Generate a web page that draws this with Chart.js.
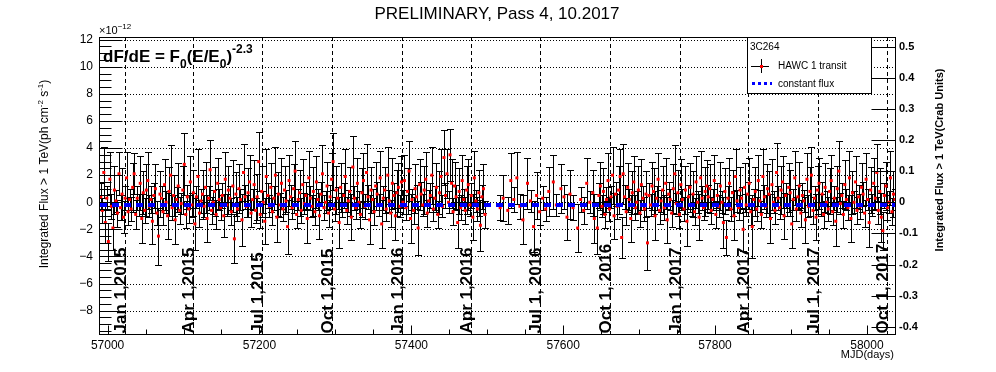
<!DOCTYPE html>
<html>
<head>
<meta charset="utf-8">
<title>3C264 - HAWC light curve</title>
<script src="https://cdn.jsdelivr.net/npm/chart.js@4.4.0/dist/chart.umd.min.js"></script>
<style>
  html, body { margin: 0; padding: 0; background: #fff; }
  #lc { display: block; }
</style>
</head>
<body>
<canvas id="lc" width="996" height="372"></canvas>
<script>
// HAWC transits of 3C264, integrated flux > 1 TeV in units of 1e-12 ph cm^-2 s^-1
// one entry every second day starting at firstMJD, null where no transit is plotted
const firstMJD = 56991;
const stepDays = 2;

const flux = [
  0.4, -0.6, 2.2, -1.5, 0.3, -2.9, 1.7, -0.3, -1.9, 0.9, 0.1, -0.8, 2.1, -0.4, 0.6, -1.1, 0.3, 1.8, -0.7, 0.2,
  -0.5, 1.1, 2.1, -0.9, 0.3, -0.2, 1.4, -1.2, 0.7, -0.6, 0.9, 1.6, -0.3, 0.2, -1.4, 0.5, 1.0, -0.8, -2.5, 0.6,
  0.3, -0.7, 1.3, 0.0, -1.0, 0.8, 2.0, -0.4, 0.5, -1.3, 0.2, 1.2, -0.6, -0.1, 0.9, 2.8, -0.9, 0.4, -0.5, 1.5,
  -0.2, 0.7, -1.6, 0.4, 1.9, -0.8, 0.1, 0.6, -0.3, 1.1, -1.2, 0.3, 2.4, -0.6, 0.0, 0.8, -0.9, 1.4, 0.2, -0.4,
  0.5, -1.0, 1.7, -0.2, 0.9, 0.3, -0.7, 1.2, -2.7, 0.6, -0.5, 1.0, 0.2, -1.3, 2.2, 0.4, -0.3, 0.7, 1.5, -0.8,
  0.2, 1.3, -0.6, 0.4, 3.0, -0.9, 0.8, 0.0, -1.4, 1.9, 0.5, -0.3, 1.1, -0.7, 0.3, 2.0, -1.1, 0.6, -0.2, 1.4,
  -0.5, 0.9, 0.1, -1.8, 1.6, 0.4, -0.4, 1.0, 2.3, -0.9, 0.2, 0.7, -0.6, 1.3, -0.1, 0.5, -1.2, 1.8, 0.3, -0.3,
  0.8, -0.7, 1.5, 0.2, -1.0, 0.6, 2.1, -0.4, 0.0, 1.2, -0.8, 0.4, 1.7, 3.0, -0.5, 0.9, 0.3, -1.5, 1.1, -0.2,
  0.5, 1.9, -0.6, 0.1, 0.8, -1.1, 2.6, 0.3, -0.4, 1.4, 0.0, -0.9, 0.7, 1.6, -0.3, 2.2, 0.4, -1.3, 0.9, 0.2,
  -0.7, 1.2, 0.6, -0.2, 1.8, -1.6, 0.3, 0.9, -0.5, 2.0, 0.1, -0.8, 1.4, 0.5, -1.0, 0.7, 1.1, -0.3, 1.5, 0.0,
  1.6, -0.4, 0.8, 2.3, -1.2, 0.2, -0.6, 1.0, 0.4, -1.9, 1.3, 0.6, -0.2, 0.9, 1.7, -0.8, 0.1, 0.5, 2.0, -0.5,
  0.3, 1.1, -0.9, 0.7, 1.9, -0.3, 3.3, 0.5, 2.1, 0.0, 3.5, 1.4, -0.7, 1.2, 0.4, -1.5, 0.8, -0.4, 1.6, 0.2,
  -0.6, 0.9, 1.3, -0.2, 0.5, -1.1, 1.8, 0.1, -0.5, 0.7, -1.7, 0.4, 1.0, -0.9, null, null, null, null, null, null,
  null, null, null, -0.4, null, 0.3, null, null, -0.6, null, 1.6, null, 0.2, null, 1.8, null, -0.3, null, -1.3, null,
  null, 1.4, null, 0.1, null, -1.8, null, 0.5, null, -0.7, null, 0.3, null, -0.5, null, 0.8, null, null, 1.5, null,
  -0.2, null, null, 1.0, null, 0.4, null, -1.1, null, 0.6, null, -0.4, null, null, -1.9, null, 0.2, null, -0.6, null,
  1.4, null, 0.0, null, 0.7, -1.2, null, -1.9, 0.5, 1.2, -0.3, 0.8, -0.9, 0.2, 1.6, -0.5, 0.4, 2.0, -1.0, 0.6,
  -0.3, 0.9, 1.9, -2.6, 2.1, 0.4, -0.7, 1.1, 0.2, -1.2, 0.7, 1.5, -0.4, 0.0, 0.9, -0.8, 1.3, 0.3, -0.5, 0.6,
  -3.0, 0.5, -0.2, 1.2, 0.8, -1.0, 0.3, 1.7, -0.6, 0.1, 0.9, -0.4, 1.4, -1.3, 0.6, 0.2, -0.8, 1.0, 2.1, -0.1,
  0.7, -0.9, 1.3, 0.2, -0.5, 0.9, -1.4, 0.4, 1.1, -0.2, 0.6, -0.7, 1.5, 0.0, -1.1, 1.8, 0.3, -0.4, 0.8, 1.2,
  0.4, 1.0, -0.6, 0.2, 1.6, -0.9, 0.5, -0.3, 1.2, 0.0, -1.5, 0.8, -2.6, 0.3, 1.4, -0.5, 0.7, -1.0, 1.9, 0.1,
  -0.4, 0.9, 0.3, -2.0, 1.1, -0.2, 0.6, 1.4, -0.7, -1.8, 0.2, 0.8, -0.5, 1.6, 0.1, -0.9, 1.9, 0.4, -0.3, 1.0,
  0.6, -1.2, 1.3, 0.0, -0.6, 2.2, 0.3, -0.4, 0.9, 1.5, -1.0, 0.5, -0.2, 1.1, 0.7, -1.6, 0.2, 1.8, -0.5, 0.4,
  1.2, -0.8, 0.5, 0.1, -1.3, 1.7, -0.3, 0.8, 2.0, -0.6, 0.3, -1.1, 0.9, 1.4, -0.2, 0.6, -0.9, 1.1, 0.0, -0.5,
  0.8, 1.6, -0.7, 0.3, -1.4, 1.0, 2.3, -0.1, 0.5, -0.9, 1.3, 0.2, -0.4, 1.8, -1.2, 0.7, 0.0, 1.5, -0.6, 0.4,
  -0.3, 1.1, 0.6, -0.8, 1.7, 0.2, -1.5, 0.9, -0.2, 1.4, 0.3, 2.2, -0.6, 0.8, -1.1, -2.1, 0.5, 1.2, -0.4, 0.0, 1.8, -0.7, 0.6, 0.2
];

const fluxErr = [
  1.0, 0.9, 1.9, 1.5, 0.9, 1.4, 2.0, 0.9, 1.6, 1.8, 0.8, 1.0, 1.6, 0.9, 1.9, 1.2, 0.9, 1.9, 1.0, 0.8,
  0.9, 1.8, 1.5, 1.1, 0.9, 0.8, 2.0, 1.8, 1.6, 0.9, 1.9, 2.1, 0.8, 1.0, 1.7, 0.9, 1.8, 0.9, 2.1, 1.7,
  0.9, 1.0, 1.9, 0.8, 1.7, 1.8, 2.2, 0.9, 1.5, 1.8, 0.9, 1.7, 1.0, 0.8, 1.8, 2.3, 1.0, 0.9, 1.0, 1.9,
  0.9, 1.7, 1.9, 0.8, 2.0, 1.0, 0.9, 1.8, 0.8, 1.9, 1.7, 0.9, 2.2, 1.0, 0.9, 1.8, 1.1, 1.9, 0.8, 0.9,
  0.9, 1.6, 2.0, 0.8, 1.8, 0.9, 1.0, 1.9, 1.8, 1.6, 0.9, 1.8, 0.8, 1.9, 2.1, 0.9, 0.8, 1.8, 2.0, 1.0,
  0.8, 1.8, 0.9, 1.7, 2.2, 1.0, 1.9, 0.8, 1.7, 2.0, 0.9, 0.8, 1.8, 1.0, 0.9, 2.1, 1.8, 1.6, 0.9, 1.9,
  0.9, 1.8, 0.8, 2.0, 1.9, 0.9, 0.8, 1.8, 2.2, 1.0, 0.8, 1.7, 0.9, 1.9, 0.8, 1.0, 1.8, 2.0, 0.9, 0.8,
  1.8, 1.0, 1.9, 0.8, 1.7, 0.9, 2.1, 0.9, 0.8, 1.8, 1.0, 0.9, 1.9, 2.1, 0.9, 1.8, 0.8, 1.9, 1.8, 0.9,
  0.9, 2.0, 1.0, 0.8, 1.8, 1.7, 2.3, 0.9, 0.8, 1.9, 0.8, 1.0, 1.8, 2.0, 0.9, 2.1, 0.9, 1.8, 1.7, 0.8,
  1.0, 1.8, 0.9, 0.8, 2.0, 1.8, 0.9, 1.7, 0.9, 2.1, 0.8, 1.0, 1.9, 0.9, 1.8, 1.7, 1.8, 0.8, 1.9, 0.9,
  1.9, 0.9, 1.7, 2.2, 1.8, 0.8, 1.0, 1.8, 0.9, 2.0, 1.9, 0.9, 0.8, 1.8, 2.0, 1.0, 0.8, 0.9, 2.1, 0.9,
  0.9, 1.8, 1.0, 1.6, 2.0, 0.8, 2.0, 0.9, 1.8, 0.8, 1.9, 1.8, 1.0, 1.8, 0.9, 1.9, 1.7, 0.9, 1.9, 0.8,
  1.0, 1.8, 1.9, 0.8, 0.9, 1.7, 2.0, 0.8, 0.9, 1.7, 1.9, 0.9, 1.8, 1.0, null, null, null, null, null, null,
  null, null, null, 0.9, null, 1.7, null, null, 1.0, null, 2.0, null, 0.9, null, 1.9, null, 0.9, null, 1.8, null,
  null, 1.9, null, 0.8, null, 1.9, null, 1.7, null, 1.0, null, 0.9, null, 0.9, null, 1.8, null, null, 2.0, null,
  0.8, null, null, 1.8, null, 0.9, null, 1.7, null, 1.8, null, 0.9, null, null, 1.8, null, 0.9, null, 1.0, null,
  1.9, null, 0.8, null, 1.7, 1.8, null, 1.9, 0.9, 1.8, 0.8, 1.7, 1.0, 0.9, 2.0, 0.9, 0.8, 2.1, 1.7, 0.9,
  0.9, 1.8, 2.0, 1.5, 2.2, 0.9, 1.0, 1.8, 0.8, 1.7, 1.6, 1.9, 0.9, 0.8, 1.8, 1.0, 1.9, 0.9, 0.9, 1.7,
  2.0, 0.9, 0.8, 1.8, 1.7, 1.8, 0.9, 1.9, 1.0, 0.8, 1.8, 0.9, 1.9, 1.7, 0.9, 0.8, 1.0, 1.8, 2.1, 0.8,
  1.7, 1.0, 1.9, 0.8, 0.9, 1.8, 1.8, 0.9, 1.8, 0.8, 1.7, 1.0, 1.9, 0.8, 1.7, 2.0, 0.9, 0.9, 1.8, 1.9,
  0.9, 1.8, 1.0, 0.8, 1.9, 1.0, 0.9, 0.8, 1.8, 0.8, 1.9, 1.7, 1.3, 0.9, 1.9, 0.9, 1.7, 1.8, 2.0, 0.8,
  0.9, 1.7, 0.8, 1.6, 1.8, 0.8, 0.9, 1.9, 1.0, 2.3, 0.8, 1.8, 0.9, 1.9, 0.8, 1.0, 2.0, 0.9, 0.8, 1.8,
  1.7, 1.8, 1.9, 0.8, 1.0, 2.2, 0.9, 0.8, 1.8, 1.9, 1.7, 0.9, 0.8, 1.8, 1.7, 1.8, 0.8, 2.0, 0.9, 0.9,
  1.8, 1.0, 0.9, 0.8, 1.7, 1.9, 0.8, 1.8, 2.1, 1.0, 0.9, 1.7, 1.8, 1.9, 0.8, 0.9, 1.0, 1.8, 0.8, 0.9,
  1.7, 1.9, 1.0, 0.9, 1.8, 1.7, 2.2, 0.8, 0.9, 1.0, 1.8, 0.8, 0.9, 2.0, 1.7, 1.6, 0.8, 1.9, 1.0, 0.9,
  0.9, 1.8, 0.9, 1.0, 1.9, 0.8, 1.8, 1.7, 0.8, 1.9, 0.9, 2.1, 1.0, 1.7, 1.8, 1.4, 0.9, 1.8, 0.9, 0.8, 2.0, 1.0, 1.7, 0.8
];

// fitted constant flux (1e-12 ph cm^-2 s^-1) and conversion to Crab units
const constFlux = -0.2;
const crabPerUnit = 0.0435;

const xRange = [56990, 58037];
const yRange = [-9.8, 12.2];
const xTicks = [57000, 57200, 57400, 57600, 57800, 58000];
const yTicks = [-8, -6, -4, -2, 0, 2, 4, 6, 8, 10, 12];
const crabTicks = [-0.4, -0.3, -0.2, -0.1, 0, 0.1, 0.2, 0.3, 0.4, 0.5];

// first day of each quarter, as MJD
const dateMJD = [57023, 57113, 57204, 57296, 57388, 57479, 57570, 57662, 57754, 57844, 57935, 58027];
const dateLabels = ['Jan 1,2015', 'Apr 1,2015', 'Jul 1,2015', 'Oct 1,2015', 'Jan 1,2016', 'Apr 1,2016',
  'Jul 1, 2016', 'Oct 1, 2016', 'Jan 1,2017', 'Apr 1,2017', 'Jul 1, 2017', 'Oct 1, 2017'];

const FONT = "'Liberation Sans', Arial, Helvetica, sans-serif";

// build the point list for the scatter dataset
const points = [];
flux.forEach((v, i) => {
  if (v === null) return;
  points.push({ x: firstMJD + stepDays * i, y: v, err: fluxErr[i] });
});

// draw a run of text pieces with different fonts / offsets (sub and superscripts)
function richWidth(ctx, parts) {
  let w = 0;
  parts.forEach(p => { ctx.font = p.font; w += ctx.measureText(p.t).width; });
  return w;
}
function richText(ctx, parts, x, y) {
  let cx = x;
  parts.forEach(p => {
    ctx.font = p.font;
    ctx.fillText(p.t, cx, y + (p.dy || 0));
    cx += ctx.measureText(p.t).width;
  });
}

function hLine(ctx, x1, x2, y) {
  ctx.beginPath(); ctx.moveTo(x1, y); ctx.lineTo(x2, y); ctx.stroke();
}
function vLine(ctx, x, y1, y2) {
  ctx.beginPath(); ctx.moveTo(x, y1); ctx.lineTo(x, y2); ctx.stroke();
}

const rootStyle = {
  id: 'rootStyle',
  beforeDatasetsDraw(chart) {
    const { ctx, chartArea: a, scales } = chart;
    const xs = scales.x, ys = scales.y;
    ctx.save();
    ctx.strokeStyle = '#000';
    ctx.lineWidth = 1;

    // dotted grid at the flux labels
    ctx.setLineDash([1, 2]);
    yTicks.forEach(v => hLine(ctx, a.left, a.right, Math.round(ys.getPixelForValue(v)) + 0.5));

    // dashed lines at the quarters
    ctx.setLineDash([4, 3]);
    dateMJD.forEach(d => vLine(ctx, Math.round(xs.getPixelForValue(d)) + 0.5, a.top, a.bottom));
    ctx.setLineDash([]);

    // error bars with end caps
    ctx.beginPath();
    ctx.rect(a.left, a.top, a.right - a.left, a.bottom - a.top);
    ctx.clip();
    ctx.beginPath();
    points.forEach(p => {
      const px = Math.round(xs.getPixelForValue(p.x)) + 0.5;
      const lo = Math.round(ys.getPixelForValue(p.y - p.err)) + 0.5;
      const hi = Math.round(ys.getPixelForValue(p.y + p.err)) + 0.5;
      ctx.moveTo(px, lo); ctx.lineTo(px, hi);
      ctx.moveTo(px - 3.5, lo); ctx.lineTo(px + 3.5, lo);
      ctx.moveTo(px - 3.5, hi); ctx.lineTo(px + 3.5, hi);
    });
    ctx.stroke();
    ctx.restore();
  },
  afterDraw(chart) {
    const { ctx, chartArea: a, scales } = chart;
    const xs = scales.x, ys = scales.y, y2 = scales.y2;
    const L = a.left - 0.5, R = a.right + 0.5, T = a.top + 0.5, B = a.bottom - 0.5;
    ctx.save();
    ctx.fillStyle = '#000';
    ctx.strokeStyle = '#000';
    ctx.lineWidth = 1;

    // quarter labels, rotated, sitting on the dashed lines
    ctx.font = `bold 17px ${FONT}`;
    ctx.textAlign = 'left';
    ctx.textBaseline = 'alphabetic';
    dateMJD.forEach((d, i) => {
      ctx.save();
      ctx.translate(Math.round(xs.getPixelForValue(d)) + 1, B - 1);
      ctx.rotate(-Math.PI / 2);
      ctx.fillText(dateLabels[i], 0, 0);
      ctx.restore();
    });

    // frame
    ctx.strokeRect(L, T, R - L, B - T);

    // left axis ticks: major at labels, minor every 0.5
    for (let v = -9.5; v <= yRange[1]; v += 0.5) {
      const py = Math.round(ys.getPixelForValue(v)) + 0.5;
      const major = yTicks.includes(v);
      hLine(ctx, L, L + (major ? 23 : 12), py);
    }
    // right axis ticks
    crabTicks.forEach(v => {
      const py = Math.round(y2.getPixelForValue(v)) + 0.5;
      hLine(ctx, R - 24, R, py);
    });
    // bottom axis ticks: major at labels, minor every 50 days
    for (let d = 57000; d <= xRange[1]; d += 50) {
      const px = Math.round(xs.getPixelForValue(d)) + 0.5;
      const major = xTicks.includes(d);
      vLine(ctx, px, B, B - (major ? 9 : 5));
    }

    // title
    ctx.textAlign = 'center';
    ctx.font = `17px ${FONT}`;
    ctx.fillText('PRELIMINARY, Pass 4, 10.2017', 497, 19);

    // axis exponent
    ctx.textAlign = 'left';
    richText(ctx, [
      { t: '\u00d710', font: `11px ${FONT}` },
      { t: '\u221212', font: `8px ${FONT}`, dy: -5 }
    ], 99, 34);

    // spectral model
    const big = `bold 17px ${FONT}`, small = `bold 12px ${FONT}`;
    richText(ctx, [
      { t: 'dF/dE = F', font: big },
      { t: '0', font: small, dy: 6 },
      { t: '(E/E', font: big },
      { t: '0', font: small, dy: 6 },
      { t: ')', font: big },
      { t: '-2.3', font: small, dy: -9 }
    ], 103, 62);

    // left axis title
    const leftTitle = [
      { t: 'Integrated Flux > 1 TeV(ph cm', font: `12px ${FONT}` },
      { t: '-2', font: `8px ${FONT}`, dy: -5 },
      { t: ' s', font: `12px ${FONT}` },
      { t: '-1', font: `8px ${FONT}`, dy: -5 },
      { t: ')', font: `12px ${FONT}` }
    ];
    ctx.save();
    ctx.translate(48, 174);
    ctx.rotate(-Math.PI / 2);
    richText(ctx, leftTitle, -richWidth(ctx, leftTitle) / 2, 0);
    ctx.restore();

    // right axis title
    ctx.save();
    ctx.translate(943, 160);
    ctx.rotate(-Math.PI / 2);
    ctx.textAlign = 'center';
    ctx.font = `bold 11px ${FONT}`;
    ctx.fillText('Integrated Flux > 1 TeV(Crab Units)', 0, 0);
    ctx.restore();

    // x axis title
    ctx.textAlign = 'right';
    ctx.font = `11px ${FONT}`;
    ctx.fillText('MJD(days)', 894, 358);

    // legend box
    ctx.fillStyle = '#fff';
    ctx.fillRect(747.5, 37.5, 124, 56);
    ctx.strokeRect(747.5, 37.5, 124, 56);
    ctx.fillStyle = '#000';
    ctx.textAlign = 'left';
    ctx.textBaseline = 'middle';
    ctx.font = `10px ${FONT}`;
    ctx.fillText('3C264', 750, 47);
    ctx.fillText('HAWC 1 transit', 778, 66);
    ctx.fillText('constant flux', 778, 84);
    hLine(ctx, 751, 769, 66.5);
    vLine(ctx, 761.5, 59, 73);
    ctx.fillStyle = '#ff0000';
    ctx.fillRect(760, 65, 3, 3);
    ctx.strokeStyle = '#0000ff';
    ctx.lineWidth = 3;
    ctx.setLineDash([3, 3]);
    hLine(ctx, 752, 772, 83.5);
    ctx.restore();
  }
};

new Chart(document.getElementById('lc'), {
  type: 'scatter',
  data: {
    datasets: [
      {
        label: 'constant flux',
        type: 'line',
        data: [{ x: xRange[0], y: constFlux }, { x: xRange[1], y: constFlux }],
        borderColor: '#0000ff',
        borderWidth: 4,
        borderDash: [7, 5],
        pointRadius: 0,
        order: 0
      },
      {
        label: 'HAWC 1 transit',
        data: points,
        pointStyle: 'rect',
        pointBackgroundColor: '#ff0000',
        pointBorderWidth: 0,
        pointRadius: 2.1,
        order: 1
      }
    ]
  },
  options: {
    responsive: false,
    animation: false,
    devicePixelRatio: 1,
    layout: { padding: { top: 37, left: 0, right: 0, bottom: 0 } },
    plugins: { legend: { display: false }, tooltip: { enabled: false } },
    scales: {
      x: {
        type: 'linear',
        min: xRange[0],
        max: xRange[1],
        grid: { display: false, drawTicks: false },
        border: { display: false },
        afterBuildTicks: s => { s.ticks = xTicks.map(v => ({ value: v })); },
        afterFit: s => { s.height = 37; },
        ticks: {
          autoSkip: false, maxRotation: 0, padding: 3, color: '#000',
          font: { family: FONT, size: 12 },
          callback: v => String(v)
        }
      },
      y: {
        position: 'left',
        min: yRange[0],
        max: yRange[1],
        grid: { display: false, drawTicks: false },
        border: { display: false },
        afterBuildTicks: s => { s.ticks = yTicks.map(v => ({ value: v })); },
        afterFit: s => { s.width = 100; },
        ticks: {
          autoSkip: false, padding: 7, color: '#000',
          font: { family: FONT, size: 12 },
          callback: v => v < 0 ? '\u2212' + Math.abs(v) : String(v)
        }
      },
      y2: {
        position: 'right',
        min: yRange[0] * crabPerUnit,
        max: yRange[1] * crabPerUnit,
        grid: { display: false, drawTicks: false },
        border: { display: false },
        afterBuildTicks: s => { s.ticks = crabTicks.map(v => ({ value: v })); },
        afterFit: s => { s.width = 101; },
        ticks: {
          autoSkip: false, padding: 4, color: '#000',
          font: { family: FONT, size: 11, weight: 'bold' },
          callback: v => v === 0 ? '0' : v.toFixed(1)
        }
      }
    }
  },
  plugins: [rootStyle]
});
</script>
</body>
</html>
